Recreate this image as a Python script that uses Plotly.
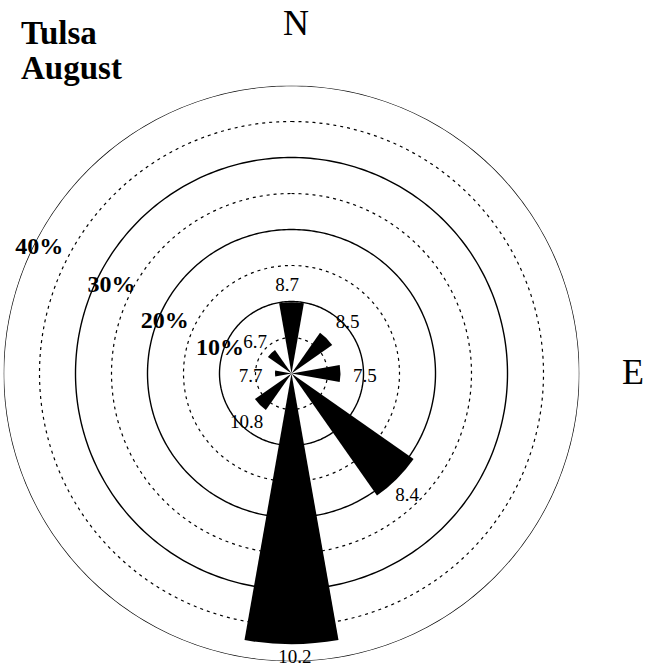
import numpy as np
import plotly.graph_objects as go

# ---- data ----
directions = ["N", "NE", "E", "SE", "S", "SW", "W", "NW"]
bearings = [0, 45, 90, 135, 180, 225, 270, 315]
freq_pct = [9.9, 6.9, 6.8, 20.7, 37.6, 6.2, 2.3, 4.0]
mean_speed = ["8.7", "8.5", "7.5", "8.4", "10.2", "10.8", "7.7", "6.7"]
ring_solid = [10, 20, 30, 40]
ring_dashed = [5, 15, 25, 35]
ring_labels = ["10%", "20%", "30%", "40%"]

# ---- label placement (style/position, not data) ----
speed_label_pad = [2.2, 3.6, 3.4, 2.75, 1.9, 3.1, 3.4, 2.6]
speed_label_dtheta = [-2.8, 3.0, 2.7, 1.8, -0.7, -3.0, -5.3, -4.8]
ring_label_pad = [0.5, -1.0, -2.2, -0.9]
ring_label_theta = [289, 292, 296, 296.4]

W, H = 653, 666
cx, cy, R = 291.5, 373.5, 288.0
SERIF = "Liberation Serif"


def px(x):
    return x / W


def py(y):
    return 1 - y / H


fig = go.Figure()
circ = np.linspace(0, 360, 361)

for r in ring_dashed:
    fig.add_trace(go.Scatterpolar(r=[r] * len(circ), theta=circ, mode="lines",
                                  line=dict(color="black", width=1.2, dash="3px,4px"),
                                  hoverinfo="skip", showlegend=False))
for r in ring_solid:
    fig.add_trace(go.Scatterpolar(r=[r] * len(circ), theta=circ, mode="lines",
                                  line=dict(color="black", width=1.4),
                                  hoverinfo="skip", showlegend=False))

fig.add_trace(go.Barpolar(r=freq_pct, theta=bearings, width=[20] * len(bearings),
                          marker=dict(color="black", line=dict(width=0)),
                          showlegend=False, name="frequency"))

# speed labels just outside wedge tips
fig.add_trace(go.Scatterpolar(
    r=[v + p for v, p in zip(freq_pct, speed_label_pad)],
    theta=[b + d for b, d in zip(bearings, speed_label_dtheta)],
    mode="text", text=mean_speed,
    textfont=dict(family=SERIF, size=19, color="black"),
    hoverinfo="skip", showlegend=False))

# ring percent labels
fig.add_trace(go.Scatterpolar(
    r=[v + p for v, p in zip(ring_solid, ring_label_pad)],
    theta=ring_label_theta,
    mode="text", text=ring_labels,
    textfont=dict(family=SERIF, size=24, color="black", weight="bold"),
    hoverinfo="skip", showlegend=False))

fig.update_layout(
    width=W, height=H,
    margin=dict(l=0, r=0, t=0, b=0),
    paper_bgcolor="white", plot_bgcolor="white",
    showlegend=False,
    font=dict(family=SERIF, color="black"),
    polar=dict(
        domain=dict(x=[(cx - R) / W, (cx + R) / W],
                    y=[(H - cy - R) / H, (H - cy + R) / H]),
        bgcolor="white",
        hole=0,
        radialaxis=dict(range=[0, 40], visible=False, showgrid=False, showline=False,
                        showticklabels=False, ticks=""),
        angularaxis=dict(direction="clockwise", rotation=90, visible=False,
                         showgrid=False, showline=False, showticklabels=False, ticks=""),
    ),
    annotations=[
        dict(text="Tulsa", x=px(19), y=py(33), xref="paper", yref="paper",
             xanchor="left", yanchor="middle", showarrow=False,
             font=dict(family=SERIF, size=33, color="black", weight="bold")),
        dict(text="August", x=px(19), y=py(68), xref="paper", yref="paper",
             xanchor="left", yanchor="middle", showarrow=False,
             font=dict(family=SERIF, size=33, color="black", weight="bold")),
        dict(text="N", x=px(296), y=py(23), xref="paper", yref="paper",
             xanchor="center", yanchor="middle", showarrow=False,
             font=dict(family=SERIF, size=36, color="black")),
        dict(text="E", x=px(633), y=py(372), xref="paper", yref="paper",
             xanchor="center", yanchor="middle", showarrow=False,
             font=dict(family=SERIF, size=36, color="black")),
    ],
)

fig.write_html("out.html",
               config={"displayModeBar": False},
               post_script="document.body.style.margin='0';document.body.style.overflow='hidden';")
